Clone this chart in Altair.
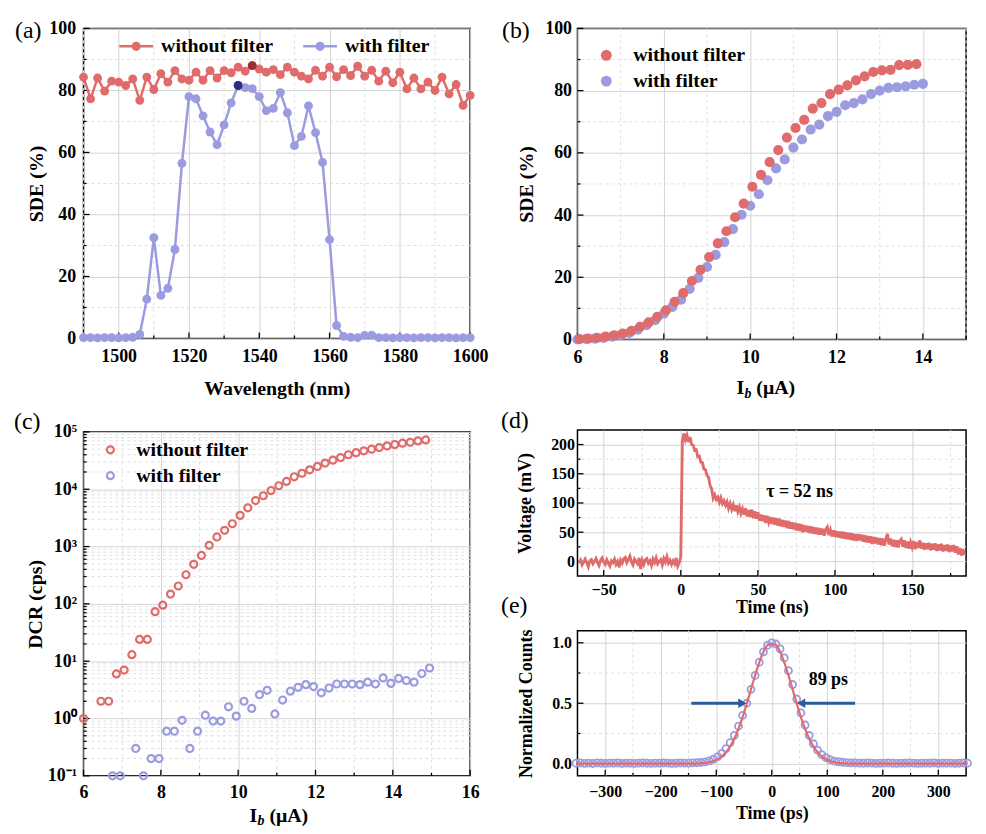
import altair as alt
import pandas as pd

FONT = "Liberation Serif"
RED = "#e06b6b"
BLUE = "#9b9be0"
DARK_RED = "#9c2f2f"
DARK_BLUE = "#2c2c85"
ARROW = "#2d5b9a"
MINOR = "#e0e0e0"
SERIES = ["without filter", "with filter"]

# ---------------- (a) SDE vs wavelength ----------------
A_WAVELENGTH = [1490 + 2 * i for i in range(56)]
A_RED = [84.3, 77.3, 84.0, 79.8, 83.0, 82.7, 81.6, 83.7, 76.8, 84.3,
         80.3, 85.4, 82.7, 86.4, 83.7, 83.3, 85.9, 83.3, 86.4, 84.0,
         86.4, 85.7, 87.5, 86.2, 88.0, 86.9, 85.9, 86.7, 85.1, 87.5,
         85.9, 84.6, 83.7, 86.5, 84.6, 87.5, 84.4, 86.7, 84.8, 87.8,
         84.6, 86.5, 83.0, 86.2, 82.5, 85.9, 80.5, 84.0, 80.5, 82.7,
         80.0, 84.3, 78.9, 81.9, 75.2, 78.4]
A_BLUE = [0.3, 0.3, 0.2, 0.3, 0.3, 0.2, 0.3, 0.4, 1.3, 12.7,
          32.5, 13.9, 16.2, 28.7, 56.5, 78.0, 77.3, 71.8, 66.6, 62.5,
          68.9, 76.0, 81.6, 80.9, 80.6, 78.0, 73.5, 74.2, 79.3, 72.8,
          62.2, 65.2, 75.0, 66.4, 56.8, 31.9, 4.2, 0.7, 0.4, 0.3,
          1.0, 1.1, 0.3, 0.3, 0.2, 0.3, 0.3, 0.2, 0.3, 0.3,
          0.2, 0.3, 0.3, 0.2, 0.3, 0.3]
A_X_TICKS = [1500, 1520, 1540, 1560, 1580, 1600]
A_X_MINOR = [1490, 1510, 1530, 1550, 1570, 1590]
SDE_TICKS = [0, 20, 40, 60, 80, 100]
SDE_MINOR = [10, 30, 50, 70, 90]

# ---------------- (b) SDE vs bias current ----------------
B_RED_X = [round(6.05 + 0.2 * k, 2) for k in range(40)]
B_RED = [0.1, 0.3, 0.5, 0.9, 1.3, 1.9, 2.8, 4.1, 5.5, 7.3,
         9.4, 12.1, 14.9, 18.8, 22.4, 26.5, 30.9, 34.8, 39.3, 43.7,
         49.1, 52.9, 57.0, 60.9, 64.9, 68.0, 70.6, 74.2, 76.0, 78.9,
         80.3, 81.7, 83.3, 84.6, 86.0, 86.5, 86.7, 88.2, 88.3, 88.5]
B_BLUE_X = [round(6.0 + 0.2 * k, 2) for k in range(41)]
B_BLUE = [0.0, 0.2, 0.3, 0.5, 0.9, 1.4, 2.1, 3.2, 4.6, 6.2,
          8.3, 10.5, 12.8, 16.3, 19.8, 23.3, 27.2, 31.3, 35.5, 40.1,
          43.0, 46.7, 51.2, 55.0, 57.9, 61.7, 64.3, 67.5, 69.1, 71.8,
          73.2, 75.3, 76.0, 77.2, 78.9, 80.0, 80.9, 81.1, 81.4, 81.9, 82.2]
B_X_TICKS = [6, 8, 10, 12, 14]
B_X_MINOR = [7, 9, 11, 13, 15]

# ---------------- (c) DCR vs bias current ----------------
C_RED_X = [6.0, 6.45, 6.65, 6.85, 7.05, 7.25, 7.45, 7.65, 7.85, 8.05,
           8.25, 8.45, 8.65, 8.85, 9.05, 9.25, 9.45, 9.65, 9.85, 10.05,
           10.25, 10.45, 10.65, 10.85, 11.05, 11.25, 11.45, 11.65, 11.85, 12.05,
           12.25, 12.45, 12.65, 12.85, 13.05, 13.25, 13.45, 13.65, 13.85, 14.05,
           14.25, 14.45, 14.65, 14.85]
C_RED = [1.0, 2.0, 2.0, 6.0, 7.0, 13, 24, 24, 73, 95,
         148, 205, 322, 490, 700, 1050, 1470, 1920, 2500, 3500,
         4750, 6350, 7700, 9500, 11500, 13700, 16500, 19000, 21800, 25000,
         28600, 32200, 35700, 40000, 43400, 46800, 50000, 53400, 57000, 60300,
         63600, 66100, 69800, 72600]
C_BLUE_X = [6.75, 6.95, 7.35, 7.55, 7.75, 7.95, 8.15, 8.35, 8.55, 8.75,
            8.95, 9.15, 9.35, 9.55, 9.75, 9.95, 10.15, 10.35, 10.55, 10.75,
            10.95, 11.15, 11.35, 11.55, 11.75, 11.95, 12.15, 12.35, 12.55, 12.75,
            12.95, 13.15, 13.35, 13.55, 13.75, 13.95, 14.15, 14.35, 14.55, 14.75, 14.95]
C_BLUE = [0.1, 0.1, 0.3, 0.1, 0.2, 0.2, 0.6, 0.6, 0.93, 0.3,
          0.6, 1.14, 0.9, 0.9, 1.6, 1.1, 2.0, 1.5, 2.6, 3.1,
          1.2, 2.1, 3.0, 3.5, 3.9, 3.6, 2.8, 3.4, 4.0, 4.0,
          4.0, 3.9, 4.3, 4.0, 5.1, 4.1, 5.0, 4.6, 4.3, 6.1, 7.6]
C_X_TICKS = [6, 8, 10, 12, 14, 16]
C_X_MINOR = [7, 9, 11, 13, 15]
C_Y_TICKS = [0.1, 1, 10, 100, 1000, 10000, 100000]
C_Y_MINOR = [m * 10.0 ** k for k in range(-1, 5) for m in range(2, 10)]

# ---------------- (d) pulse waveform ----------------
D_TIME = list(range(-66, 185))
D_VOLT = [-3, 2, -6, -1, 4, -2, -9, 1, 3, -4,
          0, 5, -2, -7, 2, 6, -1, -5, 3, -3,
          -8, 1, -2, 4, -5, 0, -10, 2, -3, 5,
          7, -2, 3, 9, -1, -6, 4, 0, -4, 6,
          -13, 2, -5, 3, 5, -3, 1, -7, 4, -2,
          6, -4, 0, 3, -6, 5, -1, 8, -3, 2,
          -5, 1, -4, 6, -8, -2,
          8, 205, 219, 208, 216, 204, 213, 200, 199, 190,
          191, 179, 180, 170, 169, 158, 157, 147, 144, 130,
          124, 108, 114, 106, 110, 101, 109, 99, 104, 96,
          102, 91, 99, 89, 97, 86, 96, 85, 93, 82,
          90, 80, 91, 77, 88, 76, 89, 74, 86, 73,
          84, 70, 80, 69, 79, 66, 78, 67, 76, 64,
          75, 63, 74, 61, 73, 60, 71, 59, 70, 57,
          69, 56, 67, 55, 66, 53, 65, 52, 64, 50,
          62, 51, 61, 49, 60, 48, 59, 47, 58, 46,
          57, 46, 56, 44, 55, 59, 45, 54, 43, 53,
          42, 52, 41, 51, 40, 51, 39, 50, 38, 49,
          37, 48, 36, 47, 35, 47, 36, 46, 34, 45,
          33, 44, 32, 43, 30, 42, 31, 41, 29, 40,
          28, 39, 27, 38, 47, 29, 39, 26, 37, 25,
          36, 24, 35, 38, 25, 36, 23, 34, 22, 33,
          24, 35, 21, 33, 23, 36, 22, 32, 20, 31,
          21, 32, 19, 30, 20, 31, 18, 29, 19, 30,
          17, 28, 18, 29, 16, 27, 17, 28, 15, 26,
          12, 23, 10, 21, 11]
D_X_TICKS = [-50, 0, 50, 100, 150]
D_X_MINOR = [-25, 25, 75, 125, 175]
D_Y_TICKS = [0, 50, 100, 150, 200]
D_Y_MINOR = [25, 75, 125, 175]

# ---------------- (e) timing jitter ----------------
E_TIME = [-352.5 + 7.5 * k for k in range(95)]
E_COUNTS = [0.004, 0.006, 0.003, 0.005, 0.002, 0.006, 0.004, 0.003, 0.005, 0.004,
            0.006, 0.003, 0.005, 0.004, 0.002, 0.005, 0.006, 0.004, 0.003, 0.005,
            0.004, 0.006, 0.005, 0.003, 0.004, 0.006, 0.005, 0.004, 0.007, 0.008,
            0.01, 0.015, 0.024, 0.038, 0.058, 0.085, 0.125, 0.175, 0.235, 0.31,
            0.40, 0.50, 0.615, 0.73, 0.84, 0.925, 0.98, 1.0,
            0.99, 0.95, 0.875, 0.77, 0.655, 0.535, 0.42, 0.32, 0.235, 0.165,
            0.112, 0.075, 0.05, 0.033, 0.022, 0.016, 0.012, 0.009,
            0.007, 0.006, 0.005, 0.004, 0.006, 0.005, 0.003, 0.004, 0.005, 0.006,
            0.004, 0.003, 0.005, 0.004, 0.006, 0.005, 0.003, 0.004, 0.005, 0.004,
            0.006, 0.003, 0.005, 0.004, 0.005, 0.003, 0.004, 0.006, 0.005]
E_FIT = [0.0] * 29 + [0.002, 0.004, 0.007, 0.012, 0.022, 0.037, 0.06, 0.095, 0.143, 0.206,
                      0.288, 0.385, 0.496, 0.615, 0.732, 0.839, 0.925, 0.981, 0.99,
                      0.981, 0.925, 0.839, 0.732, 0.615, 0.496, 0.385, 0.288, 0.206, 0.143,
                      0.095, 0.06, 0.037, 0.022, 0.012, 0.007, 0.004, 0.002] + [0.0] * 29
E_X_TICKS = [-300, -200, -100, 0, 100, 200, 300]
E_X_MINOR = [-250, -150, -50, 50, 150, 250]
E_Y_TICKS = [0.0, 0.5, 1.0]
E_Y_MINOR = [0.25, 0.75]
E_ARROWS = {"x": [-145, 150], "x2": [-53, 53], "y": [0.5, 0.5], "dir": ["r", "l"]}

# panel geometry (plot areas)
AW, AH = 389, 312
CW, CH = 389, 346
BW, BH = 391, 313
DW, DH = 391, 147
EW, EH = 391, 146
GAP_AC = 94
GAP_BD = 91
GAP_DE = 55
GAP_COL = 108


# ---------------- helpers ----------------
def minor_grid(xscale, xaxis_, xvals, yscale, yaxis_, yvals):
    gx = alt.Chart(pd.DataFrame({"mx": xvals})).mark_rule(
        color=MINOR, strokeDash=[3, 3], strokeWidth=1
    ).encode(x=alt.X("mx:Q", scale=xscale, axis=xaxis_))
    gy = alt.Chart(pd.DataFrame({"my": yvals})).mark_rule(
        color=MINOR, strokeDash=[3, 3], strokeWidth=1
    ).encode(y=alt.Y("my:Q", scale=yscale, axis=yaxis_))
    return [gx, gy]


def inner_ticks(h, xscale, xaxis_, xmaj, xmin, yscale, yaxis_, ymaj, ymin):
    """Short inward tick marks on the left and bottom frame lines."""
    out = []
    for vals, ln in ((xmaj, 6), (xmin, 3)):
        out.append(alt.Chart(pd.DataFrame({"tx": vals})).mark_rule(color="black", strokeWidth=1.3)
                   .encode(x=alt.X("tx:Q", scale=xscale, axis=xaxis_),
                           y=alt.value(h), y2=alt.value(h - ln)))
    for vals, ln in ((ymaj, 6), (ymin, 3)):
        out.append(alt.Chart(pd.DataFrame({"ty": vals})).mark_rule(color="black", strokeWidth=1.3)
                   .encode(y=alt.Y("ty:Q", scale=yscale, axis=yaxis_),
                           x=alt.value(0), x2=alt.value(ln)))
    return out


def panel_label(txt, dx, dy):
    return alt.Chart(pd.DataFrame({"t": [txt]})).mark_text(
        font=FONT, fontSize=24, align="left", baseline="middle", color="black"
    ).encode(x=alt.value(dx), y=alt.value(dy), text="t:N")


def ib_title(x0, y0):
    df = pd.DataFrame({"t": ["x"]})
    i_part = alt.Chart(df).mark_text(font=FONT, fontSize=20, fontWeight="bold", align="left",
                                     baseline="middle", color="black", text="I"
                                     ).encode(x=alt.value(x0), y=alt.value(y0))
    b_part = alt.Chart(df).mark_text(font=FONT, fontSize=14, fontWeight="bold", fontStyle="italic",
                                     align="left", baseline="middle", color="black", text="b"
                                     ).encode(x=alt.value(x0 + 8), y=alt.value(y0 + 6))
    u_part = alt.Chart(df).mark_text(font=FONT, fontSize=20, fontWeight="bold", align="left",
                                     baseline="middle", color="black", text="(μA)"
                                     ).encode(x=alt.value(x0 + 20), y=alt.value(y0))
    return [i_part, b_part, u_part]


AXIS_STYLE = dict(labelFont=FONT, labelFontWeight="bold", labelColor="black",
                  titleFont=FONT, titleFontWeight="bold", titleColor="black",
                  grid=True, gridColor="#d4d4d4", gridWidth=1, domain=False, ticks=False,
                  labelFlush=False, labelOverlap=False)


def xaxis(values, title, lp, ty, fs=18, fmt=None, tfs=20):
    kw = dict(values=values, title=title, labelPadding=lp, labelFontSize=fs,
              titleY=ty, titleBaseline="middle", titleFontSize=tfs, **AXIS_STYLE)
    if fmt:
        kw["format"] = fmt
    return alt.Axis(**kw)


def yaxis(values, title, lp, tx, fs=18, fmt=None, expr=None, tfs=20):
    kw = dict(values=values, title=title, labelPadding=lp, labelFontSize=fs,
              titleX=tx, titleBaseline="middle", titleFontSize=tfs, **AXIS_STYLE)
    if fmt:
        kw["format"] = fmt
    if expr:
        kw["labelExpr"] = expr
    return alt.Axis(**kw)


def legend(lx, ly, **extra):
    kw = dict(title=None, orient="none", legendX=lx, legendY=ly, labelFont=FONT,
              labelFontWeight="bold", labelFontSize=20, labelColor="black", padding=0,
              labelLimit=300, symbolOpacity=1)
    kw.update(extra)
    return alt.Legend(**kw)


color_scale = alt.Scale(domain=SERIES, range=[RED, BLUE])

# ---------------- panel (a) ----------------
xa = alt.Scale(domain=[1490, 1600], nice=False, zero=False)
ya = alt.Scale(domain=[0, 100], nice=False)
df_a = pd.DataFrame({
    "wl": A_WAVELENGTH + A_WAVELENGTH,
    "sde": A_RED + A_BLUE,
    "series": [SERIES[0]] * len(A_RED) + [SERIES[1]] * len(A_BLUE),
})
base_a = alt.Chart(df_a)
ax_a = xaxis(A_X_TICKS, "Wavelength (nm)", 9, 50, fmt="d")
ay_a = yaxis(SDE_TICKS, "SDE (%)", 8, -47)
LEG_PATH = ("M-1,-0.075L1,-0.075L1,0.075L-1,0.075Z "
            "M0.27,0A0.27,0.27 0 1,1 -0.27,0A0.27,0.27 0 1,1 0.27,0Z")
line_a = base_a.mark_line(strokeWidth=2.5).encode(
    x=alt.X("wl:Q", scale=xa, axis=ax_a),
    y=alt.Y("sde:Q", scale=ya, axis=ay_a),
    color=alt.Color("series:N", scale=color_scale, legend=None),
    detail="series:N",
)
pts_a = base_a.mark_circle(size=80, opacity=1).encode(
    x=alt.X("wl:Q", scale=xa, axis=ax_a),
    y=alt.Y("sde:Q", scale=ya, axis=ay_a),
    color=alt.Color("series:N", scale=color_scale, sort=SERIES,
                    legend=legend(36, 1, direction="horizontal", symbolType=LEG_PATH,
                                  symbolSize=1156, symbolStrokeWidth=0, labelOffset=8,
                                  columnPadding=30)),
)
hi_a = base_a.transform_joinaggregate(mx="max(sde)", groupby=["series"]).transform_filter(
    "datum.sde == datum.mx"
).mark_circle(size=80, opacity=1).encode(
    x=alt.X("wl:Q", scale=xa, axis=ax_a),
    y=alt.Y("sde:Q", scale=ya, axis=ay_a),
    color=alt.Color("series:N", scale=alt.Scale(domain=SERIES, range=[DARK_RED, DARK_BLUE]),
                    legend=None),
)
panel_a = alt.layer(
    *minor_grid(xa, ax_a, A_X_MINOR, ya, ay_a, SDE_MINOR),
    *inner_ticks(AH, xa, ax_a, A_X_TICKS, A_X_MINOR, ya, ay_a, SDE_TICKS, SDE_MINOR),
    line_a, pts_a, hi_a, panel_label("(a)", -69, 3)
).resolve_scale(color="independent").properties(width=AW, height=AH)

# ---------------- panel (b) ----------------
xb = alt.Scale(domain=[6, 15], nice=False, zero=False)
yb = alt.Scale(domain=[0, 100], nice=False)
df_b = pd.DataFrame({
    "ib": B_RED_X + B_BLUE_X,
    "sde": B_RED + B_BLUE,
    "series": [SERIES[0]] * len(B_RED) + [SERIES[1]] * len(B_BLUE),
})
ax_b = xaxis(B_X_TICKS, "", 9, 49)
ay_b = yaxis(SDE_TICKS, "SDE (%)", 6, -51)
pts_b_blue = alt.Chart(df_b).transform_filter(f"datum.series == '{SERIES[1]}'").mark_circle(
    size=105, opacity=1).encode(
    x=alt.X("ib:Q", scale=xb, axis=ax_b),
    y=alt.Y("sde:Q", scale=yb, axis=ay_b),
    color=alt.Color("series:N", scale=color_scale, legend=None),
)
pts_b_red = alt.Chart(df_b).transform_filter(f"datum.series == '{SERIES[0]}'").mark_circle(
    size=105, opacity=1).encode(
    x=alt.X("ib:Q", scale=xb, axis=ax_b),
    y=alt.Y("sde:Q", scale=yb, axis=ay_b),
    color=alt.Color("series:N", scale=color_scale, legend=None),
)
leg_b = alt.Chart(df_b).mark_circle(size=0, opacity=0).encode(
    x=alt.X("ib:Q", scale=xb, axis=ax_b),
    y=alt.Y("sde:Q", scale=yb, axis=ay_b),
    color=alt.Color("series:N", scale=color_scale, sort=SERIES,
                    legend=legend(19, 17, direction="vertical", symbolType="circle",
                                  symbolSize=121, labelOffset=17, rowPadding=6)),
)
panel_b = alt.layer(
    *minor_grid(xb, ax_b, B_X_MINOR, yb, ay_b, SDE_MINOR),
    *inner_ticks(BH, xb, ax_b, B_X_TICKS, B_X_MINOR, yb, ay_b, SDE_TICKS, SDE_MINOR),
    leg_b, pts_b_blue, pts_b_red,
    *ib_title(160, BH + 49), panel_label("(b)", -76, 3)
).resolve_scale(color="independent").properties(width=BW, height=BH)

# ---------------- panel (c) ----------------
xc = alt.Scale(domain=[6, 16], nice=False, zero=False)
yc = alt.Scale(type="log", domain=[0.1, 100000], nice=False)
df_c = pd.DataFrame({
    "ib": C_RED_X + C_BLUE_X,
    "dcr": C_RED + C_BLUE,
    "series": [SERIES[0]] * len(C_RED) + [SERIES[1]] * len(C_BLUE),
})
LOG_EXPR = ("datum.value < 0.5 ? '10⁻¹' : datum.value < 5 ? '10⁰' : datum.value < 50 ? '10¹' : "
            "datum.value < 500 ? '10²' : datum.value < 5000 ? '10³' : datum.value < 50000 ? '10⁴' : '10⁵'")
ax_c = xaxis(C_X_TICKS, "", 8, 40)
ay_c = yaxis(C_Y_TICKS, "DCR (cps)", 7, -48, expr=LOG_EXPR)
pts_c = alt.Chart(df_c).mark_point(shape="circle", filled=False, size=50, strokeWidth=2.2,
                                   opacity=1).encode(
    x=alt.X("ib:Q", scale=xc, axis=ax_c),
    y=alt.Y("dcr:Q", scale=yc, axis=ay_c),
    color=alt.Color("series:N", scale=color_scale, sort=SERIES,
                    legend=legend(17, 8, direction="vertical", symbolType="circle",
                                  symbolSize=50, symbolStrokeWidth=2.2,
                                  symbolFillColor="transparent", labelOffset=16, rowPadding=6)),
)
panel_c = alt.layer(
    *minor_grid(xc, ax_c, C_X_MINOR, yc, ay_c, C_Y_MINOR),
    *inner_ticks(CH, xc, ax_c, C_X_TICKS, C_X_MINOR, yc, ay_c, C_Y_TICKS, C_Y_MINOR),
    pts_c, *ib_title(167, CH + 40), panel_label("(c)", -70, -10)
).resolve_scale(color="independent").properties(width=CW, height=CH)

# ---------------- panel (d) ----------------
xd = alt.Scale(domain=[-67, 185], nice=False, zero=False)
yd = alt.Scale(domain=[-25, 225], nice=False, zero=False)
df_d = pd.DataFrame({"t": D_TIME, "v": D_VOLT})
ax_d = xaxis(D_X_TICKS, "Time (ns)", 6, 32, fs=16, tfs=18)
ay_d = yaxis(D_Y_TICKS, "Voltage (mV)", 3, -52, fs=16, tfs=18)
line_d = alt.Chart(df_d).mark_line(color=RED, strokeWidth=2.9).encode(
    x=alt.X("t:Q", scale=xd, axis=ax_d),
    y=alt.Y("v:Q", scale=yd, axis=ay_d),
)
tau_d = alt.Chart(pd.DataFrame({"x": [77], "y": [118], "s": ["τ = 52 ns"]})).mark_text(
    font=FONT, fontSize=18, fontWeight="bold", color="black", align="center", baseline="middle"
).encode(x=alt.X("x:Q", scale=xd, axis=ax_d), y=alt.Y("y:Q", scale=yd, axis=ay_d), text="s:N")
panel_d = alt.layer(
    *minor_grid(xd, ax_d, D_X_MINOR, yd, ay_d, D_Y_MINOR),
    *inner_ticks(DH, xd, ax_d, D_X_TICKS, D_X_MINOR, yd, ay_d, D_Y_TICKS, D_Y_MINOR),
    line_d, tau_d, panel_label("(d)", -77, -9)
).properties(width=DW, height=DH)

# ---------------- panel (e) ----------------
xe = alt.Scale(domain=[-350, 350], nice=False, zero=False)
ye = alt.Scale(domain=[-0.1, 1.1], nice=False, zero=False)
df_e = pd.DataFrame({"t": E_TIME, "c": E_COUNTS, "f": E_FIT})
ax_e = xaxis(E_X_TICKS, "Time (ps)", 8, 38, fs=16, tfs=18)
ay_e = yaxis(E_Y_TICKS, "Normalized Counts", 6, -51, fs=16, fmt=".1f", tfs=18)
pts_e = alt.Chart(df_e).mark_point(shape="circle", filled=False, size=50, strokeWidth=1.8,
                                   color=BLUE, opacity=1).encode(
    x=alt.X("t:Q", scale=xe, axis=ax_e),
    y=alt.Y("c:Q", scale=ye, axis=ay_e),
)
fit_e = alt.Chart(df_e).mark_line(color=RED, strokeWidth=2.2, interpolate="monotone").encode(
    x=alt.X("t:Q", scale=xe, axis=ax_e),
    y=alt.Y("f:Q", scale=ye, axis=ay_e),
)
df_arrow = pd.DataFrame(E_ARROWS)
arrow_line = alt.Chart(df_arrow).mark_rule(color=ARROW, strokeWidth=3).encode(
    x=alt.X("x:Q", scale=xe, axis=ax_e), x2="x2:Q", y=alt.Y("y:Q", scale=ye, axis=ay_e),
)
arrow_head = alt.Chart(df_arrow).mark_point(filled=True, size=90, color=ARROW, opacity=1).encode(
    x=alt.X("x2:Q", scale=xe, axis=ax_e), y=alt.Y("y:Q", scale=ye, axis=ay_e),
    shape=alt.Shape("dir:N", scale=alt.Scale(domain=["r", "l"], range=["triangle-right", "triangle-left"]),
                    legend=None),
)
fwhm_e = alt.Chart(pd.DataFrame({"x": [102], "y": [0.69], "s": ["89 ps"]})).mark_text(
    font=FONT, fontSize=18, fontWeight="bold", color="black", align="center", baseline="middle"
).encode(x=alt.X("x:Q", scale=xe, axis=ax_e), y=alt.Y("y:Q", scale=ye, axis=ay_e), text="s:N")
panel_e = alt.layer(
    *minor_grid(xe, ax_e, E_X_MINOR, ye, ay_e, E_Y_MINOR),
    *inner_ticks(EH, xe, ax_e, E_X_TICKS, E_X_MINOR, ye, ay_e, E_Y_TICKS, E_Y_MINOR),
    pts_e, fit_e, arrow_line, arrow_head, fwhm_e, panel_label("(e)", -77, -25)
).properties(width=EW, height=EH)

# ---------------- layout ----------------
# with flush bounds a nested concat counts as zero-sized, so the column gap
# includes the width of the left column
left = alt.vconcat(panel_a, panel_c, spacing=GAP_AC, bounds="flush").resolve_scale(
    color="independent", shape="independent")
right_bottom = alt.vconcat(panel_d, panel_e, spacing=GAP_DE, bounds="flush").resolve_scale(
    color="independent", shape="independent")
right = alt.vconcat(panel_b, right_bottom, spacing=GAP_BD, bounds="flush").resolve_scale(
    color="independent", shape="independent")
chart = alt.hconcat(left, right, spacing=AW + GAP_COL, bounds="flush").resolve_scale(
    color="independent", shape="independent"
).properties(
    padding={"left": 5, "top": 8, "right": 2, "bottom": 2}
).configure_view(
    stroke="black", strokeWidth=1.5
).configure_axis(
    labelFont=FONT, labelFontWeight="bold", labelColor="black",
    titleFont=FONT, titleFontWeight="bold", titleColor="black",
    domain=False, ticks=False, tickSize=0, gridColor="#d4d4d4", gridWidth=1,
    labelFlush=False, labelOverlap=False,
)

chart.save("out.html", embed_options={"renderer": "svg", "actions": False})
